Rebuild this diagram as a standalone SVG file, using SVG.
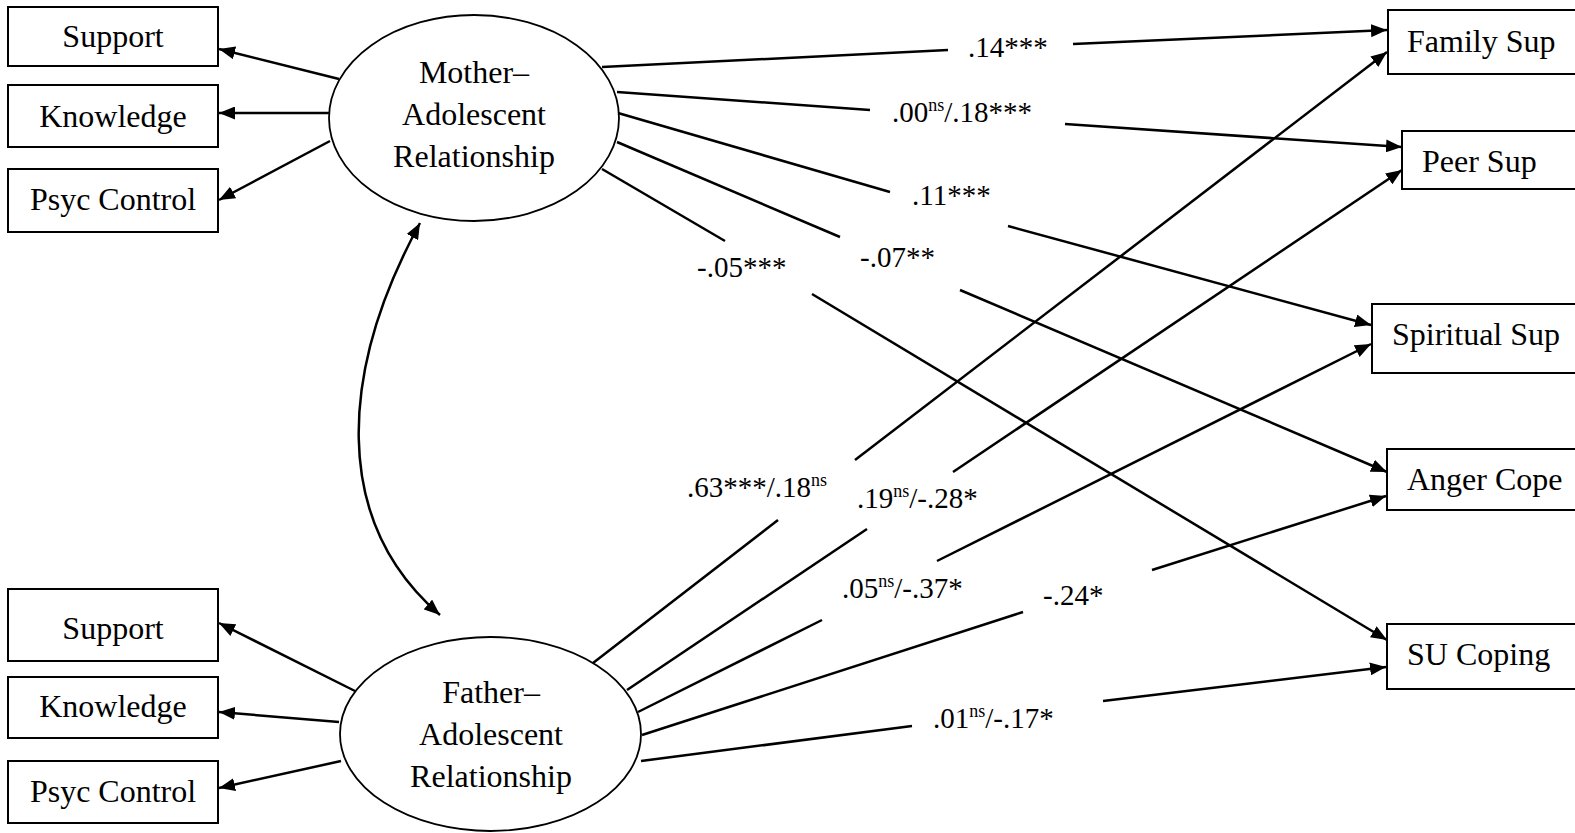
<svg xmlns="http://www.w3.org/2000/svg" width="1575" height="833" viewBox="0 0 1575 833">
<defs>
<marker id="arr" markerUnits="userSpaceOnUse" markerWidth="16" markerHeight="13" refX="16" refY="6.5" orient="auto-start-reverse">
<path d="M0,0 L16,6.5 L0,13 z" fill="#000"/>
</marker>
</defs>
<style>
.box{fill:#fff;stroke:#000;stroke-width:2}
.ell{fill:#fff;stroke:#000;stroke-width:1.8}
.t{font-family:"Liberation Serif","Times New Roman",serif;font-size:32px;fill:#000}
.c{text-anchor:middle}
.lab{font-family:"Liberation Serif","Times New Roman",serif;font-size:29px;fill:#000}
.sup{font-size:18px}
.ln{stroke:#000;stroke-width:2.5;fill:none}
.ar{marker-end:url(#arr)}
</style>
<rect width="1575" height="833" fill="#fff"/>

<g id="connectors">
<line class="ln ar" x1="339" y1="79" x2="219" y2="49"/>
<line class="ln ar" x1="329" y1="113" x2="219" y2="113"/>
<line class="ln ar" x1="330" y1="141" x2="219" y2="200"/>
<line class="ln ar" x1="355" y1="691" x2="219" y2="623"/>
<line class="ln ar" x1="339" y1="722" x2="219" y2="712"/>
<line class="ln ar" x1="341" y1="761" x2="219" y2="788"/>
<path class="ln" d="M420,223 C340,370 330,520 440,615" marker-start="url(#arr)" marker-end="url(#arr)"/>
<line class="ln" x1="602" y1="67" x2="948" y2="50"/>
<line class="ln ar" x1="1073" y1="44" x2="1387" y2="30"/>
<line class="ln" x1="617" y1="92" x2="870" y2="110"/>
<line class="ln ar" x1="1065" y1="124" x2="1402" y2="147"/>
<line class="ln" x1="618" y1="113" x2="890" y2="192"/>
<line class="ln ar" x1="1008" y1="226" x2="1371" y2="325"/>
<line class="ln" x1="617" y1="142" x2="840" y2="237"/>
<line class="ln ar" x1="960" y1="290" x2="1387" y2="472"/>
<line class="ln" x1="602" y1="169" x2="725" y2="241"/>
<line class="ln ar" x1="812" y1="294" x2="1387" y2="640"/>
<line class="ln" x1="593" y1="663" x2="778" y2="520"/>
<line class="ln ar" x1="855" y1="460" x2="1387" y2="52"/>
<line class="ln" x1="627" y1="690" x2="867" y2="529"/>
<line class="ln ar" x1="953" y1="472" x2="1402" y2="170"/>
<line class="ln" x1="638" y1="712" x2="822" y2="620"/>
<line class="ln ar" x1="937" y1="561" x2="1371" y2="344"/>
<line class="ln" x1="642" y1="735" x2="1023" y2="612"/>
<line class="ln ar" x1="1152" y1="570" x2="1386" y2="496"/>
<line class="ln" x1="641" y1="761" x2="912" y2="726"/>
<line class="ln ar" x1="1103" y1="701" x2="1386" y2="667"/>
</g>

<g id="labels">
<text class="lab" x="968" y="57">.14***</text>
<text class="lab" x="892" y="122">.00<tspan class="sup" dy="-11">ns</tspan><tspan dy="11">/.18***</tspan></text>
<text class="lab" x="912" y="205">.11***</text>
<text class="lab" x="860" y="267">-.07**</text>
<text class="lab" x="697" y="277">-.05***</text>
<text class="lab" x="687" y="497">.63***/.18<tspan class="sup" dy="-11">ns</tspan></text>
<text class="lab" x="857" y="508">.19<tspan class="sup" dy="-11">ns</tspan><tspan dy="11">/-.28*</tspan></text>
<text class="lab" x="842" y="598">.05<tspan class="sup" dy="-11">ns</tspan><tspan dy="11">/-.37*</tspan></text>
<text class="lab" x="1043" y="605">-.24*</text>
<text class="lab" x="933" y="728">.01<tspan class="sup" dy="-11">ns</tspan><tspan dy="11">/-.17*</tspan></text>
</g>

<g id="mother">
<ellipse class="ell" cx="474" cy="118" rx="145" ry="103"/>
<text class="t c" x="474" y="83">Mother–</text>
<text class="t c" x="474" y="125">Adolescent</text>
<text class="t c" x="474" y="167">Relationship</text>
</g>
<g id="father">
<ellipse class="ell" cx="490.5" cy="734" rx="150.5" ry="97"/>
<text class="t c" x="491" y="703">Father–</text>
<text class="t c" x="491" y="745">Adolescent</text>
<text class="t c" x="491" y="787">Relationship</text>
</g>

<g id="m-support"><rect class="box" x="8" y="7" width="210" height="59"/><text class="t c" x="113" y="47">Support</text></g>
<g id="m-knowledge"><rect class="box" x="8" y="85" width="210" height="62"/><text class="t c" x="113" y="127">Knowledge</text></g>
<g id="m-psyc"><rect class="box" x="8" y="169" width="210" height="63"/><text class="t c" x="113" y="210">Psyc Control</text></g>
<g id="f-support"><rect class="box" x="8" y="589" width="210" height="72"/><text class="t c" x="113" y="639">Support</text></g>
<g id="f-knowledge"><rect class="box" x="8" y="677" width="210" height="61"/><text class="t c" x="113" y="717">Knowledge</text></g>
<g id="f-psyc"><rect class="box" x="8" y="761" width="210" height="62"/><text class="t c" x="113" y="802">Psyc Control</text></g>

<g id="family-sup"><rect class="box" x="1388" y="10" width="200" height="64"/><text class="t" x="1407" y="52">Family Sup</text></g>
<g id="peer-sup"><rect class="box" x="1402" y="131" width="200" height="58"/><text class="t" x="1422" y="172">Peer Sup</text></g>
<g id="spiritual-sup"><rect class="box" x="1372" y="304" width="220" height="69"/><text class="t" x="1392" y="345">Spiritual Sup</text></g>
<g id="anger-cope"><rect class="box" x="1387" y="449" width="200" height="61"/><text class="t" x="1407" y="490">Anger Cope</text></g>
<g id="su-coping"><rect class="box" x="1387" y="624" width="200" height="65"/><text class="t" x="1407" y="665">SU Coping</text></g>
</svg>
